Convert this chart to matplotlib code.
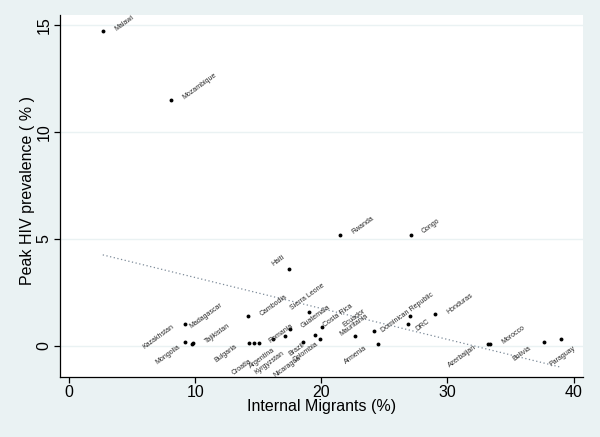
import matplotlib
matplotlib.use('Agg')
import matplotlib.pyplot as plt
import numpy as np

plt.rcParams['font.family'] = ['Liberation Sans', 'DejaVu Sans']

# data
countries = ['Malawi', 'Mozambique', 'Rwanda', 'Congo', 'Haiti',
             'Kazakhstan', 'Mongolia', 'Madagascar', 'Tajikistan', 'Cambodia',
             'Bulgaria', 'Croatia', 'Argentina', 'Kyrgyzstan', 'Romania',
             'Guatemala', 'Sierra Leone', 'Nicaragua', 'Brazil', 'Costa Rica',
             'Colombia', 'Mauritania', 'Ecuador', 'Armenia', 'DRC',
             'Dominican Republic', 'Honduras', 'Azerbaijan', 'Morocco', 'Bolivia',
             'Paraguay']
migrants = [2.67, 8.07, 21.48, 27.09, 17.46,
            9.22, 9.22, 9.75, 9.86, 14.16,
            14.24, 14.64, 15.03, 16.2, 17.15,
            17.49, 18.99, 18.57, 19.5, 19.9,
            20.06, 22.69, 24.2, 24.49, 27.05,
            26.89, 28.99, 33.21, 33.39, 37.69,
            39.02]
hiv_peak = [14.72, 11.52, 5.21, 5.21, 3.61,
            1.02, 0.20, 0.08, 0.15, 1.41,
            0.13, 0.13, 0.13, 0.31, 0.48,
            0.80, 1.60, 0.20, 0.52, 0.31,
            0.90, 0.48, 0.70, 0.11, 1.41,
            1.02, 1.50, 0.11, 0.11, 0.20,
            0.31]

# label placement (pixel offsets from the marker, anchor side)
lab_pos = {
    'Malawi': (12.5, 1, 'left'), 'Mozambique': (12, 1, 'left'),
    'Rwanda': (12.5, 2, 'left'), 'Congo': (12, 2, 'left'),
    'Haiti': (-5.5, 12, 'right'), 'Kazakhstan': (-11.5, -2, 'right'),
    'Mongolia': (-5.5, -4.5, 'right'), 'Madagascar': (-1.5, 17, 'left'),
    'Tajikistan': (12.5, 1, 'left'), 'Cambodia': (13, 1.3, 'left'),
    'Bulgaria': (-12, -2.7, 'right'), 'Croatia': (-3, -17, 'right'),
    'Argentina': (15.5, -6, 'right'), 'Kyrgyzstan': (10, -13.5, 'right'),
    'Romania': (6.5, 10.5, 'right'), 'Guatemala': (12, 1.7, 'left'),
    'Sierra Leone': (-1.2, 14.8, 'center'), 'Nicaragua': (-2.5, -15.3, 'right'),
    'Brazil': (-11.5, -9.7, 'right'), 'Costa Rica': (4, 14, 'left'),
    'Colombia': (-4, -17, 'right'), 'Mauritania': (-1, 10.4, 'center'),
    'Ecuador': (-20, 13, 'center'), 'Armenia': (-12, -3.3, 'right'),
    'DRC': (6.5, -13.7, 'left'), 'Dominican Republic': (-0.7, 11, 'center'),
    'Honduras': (13, 1, 'left'), 'Azerbaijan': (-12, -3.3, 'right'),
    'Morocco': (12.5, 0.7, 'left'), 'Bolivia': (-14.5, -6.3, 'right'),
    'Paraguay': (1.3, -16.7, 'center'),
}

bg = '#eaf2f3'
fig = plt.figure(figsize=(6, 4.37), dpi=100, facecolor=bg)
ax = fig.add_axes([0.1, 0.1373, 0.8717, 0.8284])
ax.set_facecolor('white')

x = np.array(migrants)
y = np.array(hiv_peak)

# linear fit over the data range
b, a = np.polyfit(x, y, 1)
xf = np.array([x.min(), x.max()])
ax.plot(xf, a + b * xf, linestyle=(0, (1, 2)), color='#7d8b99', lw=0.9, zorder=2)

ax.plot(x, y, 'o', ms=2.8, color='black', mec='none', zorder=3)

for name, xi, yi in zip(countries, x, y):
    dx, dy, ha = lab_pos[name]
    ax.annotate(name, (xi, yi), xytext=(dx, dy), textcoords='offset pixels',
                rotation=36, rotation_mode='anchor', ha=ha, va='center',
                fontsize=5.0, color='#262626')

ax.set_xlim(-0.72, 40.75)
ax.set_ylim(-1.45, 15.47)
ax.set_xticks([0, 10, 20, 30, 40])
ax.set_yticks([0, 5, 10, 15])
ax.yaxis.grid(True, color=bg, lw=1)
ax.set_axisbelow(True)
for s in ['top', 'right']:
    ax.spines[s].set_visible(False)
for s in ['left', 'bottom']:
    ax.spines[s].set_linewidth(0.9)
ax.tick_params(direction='out', length=4.5, width=0.9, labelsize=11.5, pad=1.5)
plt.setp(ax.get_yticklabels(), rotation=90, va='center')

ax.set_xlabel('Internal Migrants (%)', fontsize=11.5, labelpad=-1)
ax.set_ylabel('Peak HIV prevalence ( % )', fontsize=11.5)
ax.yaxis.set_label_coords(-0.047, 0.515)

fig.savefig('out.png', dpi=100, facecolor=bg)
